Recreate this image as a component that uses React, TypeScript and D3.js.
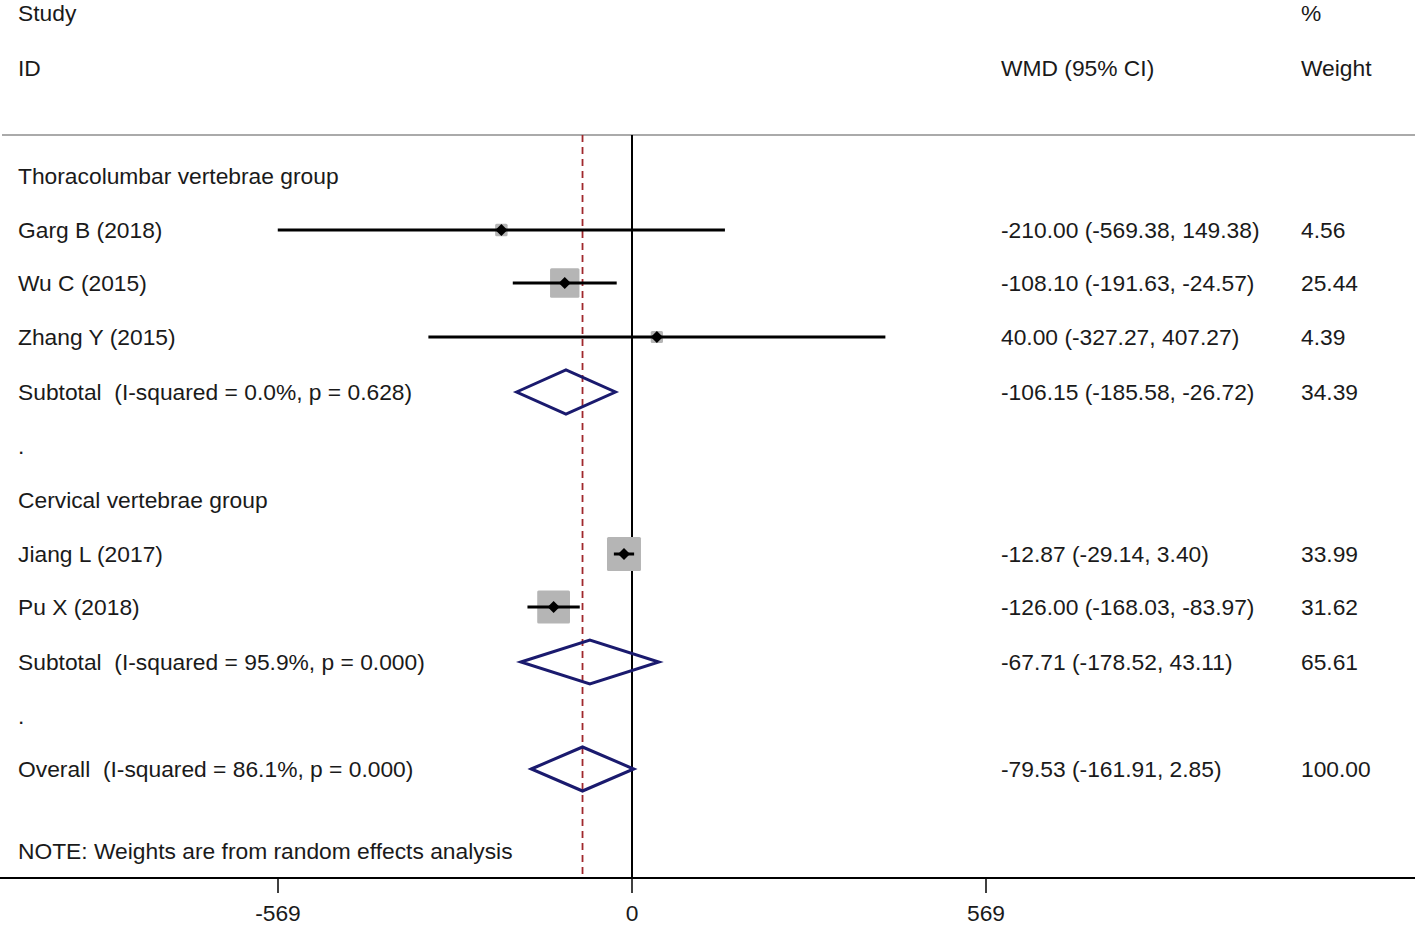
import React from "react";
import * as d3 from "d3";

const studyNames = ["Garg B (2018)", "Wu C (2015)", "Zhang Y (2015)", "Jiang L (2017)", "Pu X (2018)"];
const studyEst = [-210.0, -108.1, 40.0, -12.87, -126.0];
const studyLo = [-569.38, -191.63, -327.27, -29.14, -168.03];
const studyHi = [149.38, -24.57, 407.27, 3.4, -83.97];
const studyWeight = [4.56, 25.44, 4.39, 33.99, 31.62];
const studyCI = ["-210.00 (-569.38, 149.38)", "-108.10 (-191.63, -24.57)", "40.00 (-327.27, 407.27)", "-12.87 (-29.14, 3.40)", "-126.00 (-168.03, -83.97)"];
const studyWeightLabel = ["4.56", "25.44", "4.39", "33.99", "31.62"];

const pooledNames = ["Subtotal  (I-squared = 0.0%, p = 0.628)", "Subtotal  (I-squared = 95.9%, p = 0.000)", "Overall  (I-squared = 86.1%, p = 0.000)"];
const pooledEst = [-106.15, -67.71, -79.53];
const pooledLo = [-185.58, -178.52, -161.91];
const pooledHi = [-26.72, 43.11, 2.85];
const pooledCI = ["-106.15 (-185.58, -26.72)", "-67.71 (-178.52, 43.11)", "-79.53 (-161.91, 2.85)"];
const pooledWeightLabel = ["34.39", "65.61", "100.00"];

const groupLabels = ["Thoracolumbar vertebrae group", "Cervical vertebrae group"];
const tickValues = [-569, 0, 569];
const overallEst = -79.53;

// row layout: [kind, index]
const rows: [string, number][] = [
  ["group", 0], ["study", 0], ["study", 1], ["study", 2], ["pooled", 0], ["dot", 0],
  ["group", 1], ["study", 3], ["study", 4], ["pooled", 1], ["dot", 1],
  ["pooled", 2],
];
const rowY = [176, 230, 283, 337, 392, 446, 500, 554, 607, 662, 716, 769];

export default function App() {
  const W = 1418, H = 928;
  const x = d3.scaleLinear().domain([-569, 569]).range([278, 986]);
  const font = "'Liberation Sans', Arial, sans-serif";
  const fs = 22.8;
  const textColor = "#1a1a1a";
  const boxSide = (w: number) => 5.83 * Math.sqrt(w);
  const axisY = 878;
  const topY = 135;

  const diamond = (lo: number, est: number, hi: number, cy: number) => {
    const h = 22;
    return `M${x(lo)},${cy} L${x(est)},${cy - h} L${x(hi)},${cy} L${x(est)},${cy + h} Z`;
  };

  return (
    <svg width={W} height={H} style={{ position: "absolute", left: 0, top: 0, background: "#fff" }} fontFamily={font}>
      <rect x={0} y={0} width={W} height={H} fill="#fff" />
      {/* headers */}
      <text x={18} y={13} fontSize={fs} fill={textColor} dominantBaseline="central">Study</text>
      <text x={18} y={68} fontSize={fs} fill={textColor} dominantBaseline="central">ID</text>
      <text x={1001} y={68} fontSize={fs} fill={textColor} dominantBaseline="central">WMD (95% CI)</text>
      <text x={1301} y={13} fontSize={fs} fill={textColor} dominantBaseline="central">%</text>
      <text x={1301} y={68} fontSize={fs} fill={textColor} dominantBaseline="central">Weight</text>
      <line x1={2} x2={1415} y1={topY} y2={topY} stroke="#aaa" strokeWidth={2} />

      {/* reference lines */}
      <line x1={x(0)} x2={x(0)} y1={topY} y2={axisY} stroke="#000" strokeWidth={2} />
      <line x1={x(overallEst)} x2={x(overallEst)} y1={topY} y2={axisY} stroke="#a0282d" strokeWidth={1.8} strokeDasharray="7,5" />

      {rows.map(([kind, i], r) => {
        const cy = rowY[r];
        if (kind === "group") {
          return <text key={r} x={18} y={cy} fontSize={fs} fill={textColor} dominantBaseline="central">{groupLabels[i]}</text>;
        }
        if (kind === "dot") {
          return <text key={r} x={18} y={cy} fontSize={fs} fill={textColor} dominantBaseline="central">.</text>;
        }
        if (kind === "study") {
          const s = boxSide(studyWeight[i]);
          const cx = x(studyEst[i]);
          return (
            <g key={r}>
              <text x={18} y={cy} fontSize={fs} fill={textColor} dominantBaseline="central">{studyNames[i]}</text>
              <rect x={cx - s / 2} y={cy - s / 2} width={s} height={s} fill="#b5b5b5" rx={1.5} />
              <line x1={x(studyLo[i])} x2={x(studyHi[i])} y1={cy} y2={cy} stroke="#000" strokeWidth={3} />
              <path d={`M${cx - 6},${cy} L${cx},${cy - 6} L${cx + 6},${cy} L${cx},${cy + 6} Z`} fill="#000" />
              <text x={1001} y={cy} fontSize={fs} fill={textColor} dominantBaseline="central">{studyCI[i]}</text>
              <text x={1301} y={cy} fontSize={fs} fill={textColor} dominantBaseline="central">{studyWeightLabel[i]}</text>
            </g>
          );
        }
        return (
          <g key={r}>
            <text x={18} y={cy} fontSize={fs} fill={textColor} dominantBaseline="central" style={{ whiteSpace: "pre" }}>{pooledNames[i]}</text>
            <path d={diamond(pooledLo[i], pooledEst[i], pooledHi[i], cy)} fill="none" stroke="#1a1a6e" strokeWidth={3} />
            <text x={1001} y={cy} fontSize={fs} fill={textColor} dominantBaseline="central">{pooledCI[i]}</text>
            <text x={1301} y={cy} fontSize={fs} fill={textColor} dominantBaseline="central">{pooledWeightLabel[i]}</text>
          </g>
        );
      })}

      <text x={18} y={851} fontSize={fs} fill={textColor} dominantBaseline="central">NOTE: Weights are from random effects analysis</text>

      {/* axis */}
      <line x1={0} x2={1415} y1={axisY} y2={axisY} stroke="#000" strokeWidth={2} />
      {tickValues.map((t) => (
        <g key={t}>
          <line x1={x(t)} x2={x(t)} y1={axisY} y2={axisY + 15} stroke="#000" strokeWidth={1.5} />
          <text x={x(t)} y={913} fontSize={fs} fill={textColor} textAnchor="middle" dominantBaseline="central">{t}</text>
        </g>
      ))}
    </svg>
  );
}
